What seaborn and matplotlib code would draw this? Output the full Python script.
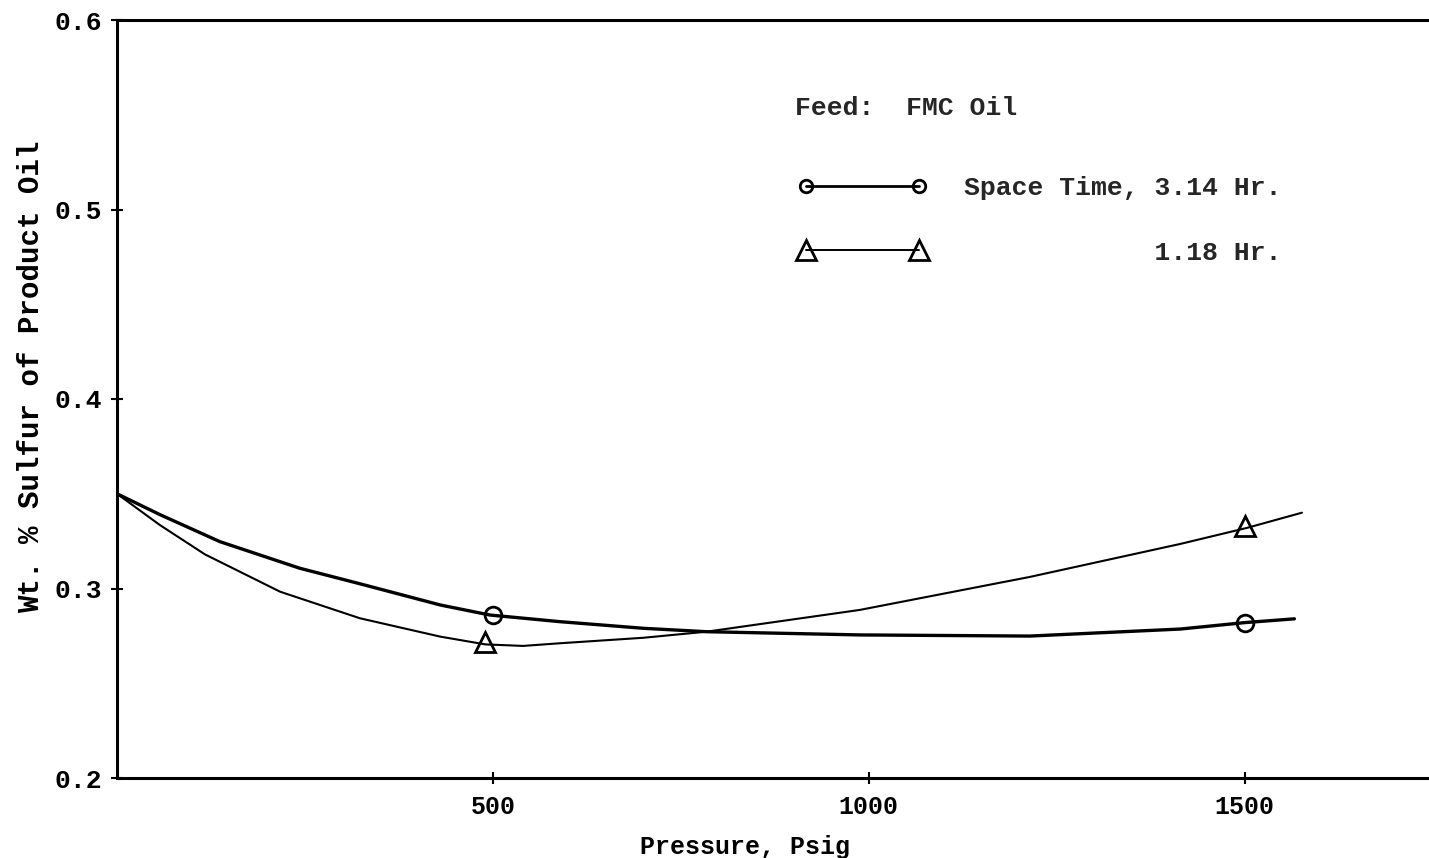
import numpy as np
import pandas as pd
import seaborn as sns
import matplotlib
matplotlib.use('Agg')
from matplotlib import pyplot as plt
from matplotlib.lines import Line2D

# Curves (pressure in psig, wt. % sulfur).
long_x = [0, 57, 137, 243, 323, 430, 496, 589, 700, 784, 988, 1214, 1414, 1500, 1566]
long_y = [0.350, 0.339, 0.3247, 0.3107, 0.3025, 0.2913, 0.286, 0.2825, 0.279, 0.2772,
          0.2755, 0.2749, 0.2786, 0.282, 0.284]

short_x = [0, 57, 117, 217, 323, 430, 490, 540, 589, 700, 784, 988, 1214, 1414, 1503, 1576]
short_y = [0.350, 0.3335, 0.318, 0.2983, 0.2843, 0.2746, 0.2705, 0.2697, 0.2711, 0.274,
           0.2772, 0.2887, 0.3061, 0.3235, 0.332, 0.340]

# Measured points.
long_pts_x = [500, 1500]
long_pts_y = [0.286, 0.282]
short_pts_x = [490, 1500]
short_pts_y = [0.272, 0.333]

x_ticks = [500, 1000, 1500]
y_ticks = [0.2, 0.3, 0.4, 0.5, 0.6]

sns.set_style('white')
plt.rcParams['font.family'] = ['Liberation Mono', 'DejaVu Sans Mono']
plt.rcParams['font.weight'] = 'bold'

FS = 19

fig = plt.figure(figsize=(14.29, 8.58), dpi=100)
ax = fig.add_axes([117 / 1429, 1 - 778 / 858, 1 - 117 / 1429, (778 - 20) / 858])

sns.lineplot(x=long_x, y=long_y, ax=ax, color='black', linewidth=2.4, sort=False)
sns.lineplot(x=short_x, y=short_y, ax=ax, color='black', linewidth=1.5, sort=False)
ax.plot(long_pts_x, long_pts_y, linestyle='none', marker='o', markersize=12,
        markerfacecolor='none', markeredgecolor='black', markeredgewidth=2)
ax.plot(short_pts_x, short_pts_y, linestyle='none', marker='^', markersize=15,
        markerfacecolor='none', markeredgecolor='black', markeredgewidth=2)

ax.set_xlim(0, 1745)
ax.set_ylim(0.2, 0.6)
ax.set_xticks(x_ticks)
ax.set_yticks(y_ticks)
ax.set_xticklabels([str(v) for v in x_ticks])
ax.set_yticklabels([f'{v:.1f}' for v in y_ticks])
ax.tick_params(bottom=True, left=True, direction='inout', length=9, width=1.5,
               labelsize=FS, colors='black', pad=6)
ax.tick_params(axis='x', pad=8, labelsize=18)

for side in ['left', 'top', 'bottom']:
    ax.spines[side].set_visible(True)
    ax.spines[side].set_color('black')
    ax.spines[side].set_linewidth(2.2)
ax.spines['right'].set_visible(False)

ax.set_xlabel('Pressure, Psig', fontsize=18, fontweight='bold', color='black')
ax.xaxis.set_label_coords(0.479, -0.075)
ax.set_ylabel('Wt. % Sulfur of Product Oil', fontsize=21, fontweight='bold', color='black')
ax.yaxis.set_label_coords(-0.055, 0.53)

ax.text(795 / 1429, 1 - 108 / 858, 'Feed:  FMC Oil', transform=fig.transFigure,
        fontsize=FS, fontweight='bold', va='center', ha='left')

handles = [
    Line2D([0], [0], color='black', linewidth=2, marker='o', markersize=9,
           markerfacecolor='none', markeredgewidth=2),
    Line2D([0], [0], color='black', linewidth=1.4, marker='^', markersize=15,
           markerfacecolor='none', markeredgewidth=2),
]
labels = ['Space Time, 3.14 Hr.', '            1.18 Hr.']
ax.legend(handles, labels, numpoints=2, frameon=False, loc='upper left',
          bbox_to_anchor=(798 / 1429, 1 - 176 / 858), bbox_transform=fig.transFigure,
          prop={'size': FS, 'weight': 'bold'}, handlelength=4.9, handletextpad=1.4,
          labelspacing=1.54, borderpad=0, borderaxespad=0)

fig.savefig('out.png', dpi=100)
